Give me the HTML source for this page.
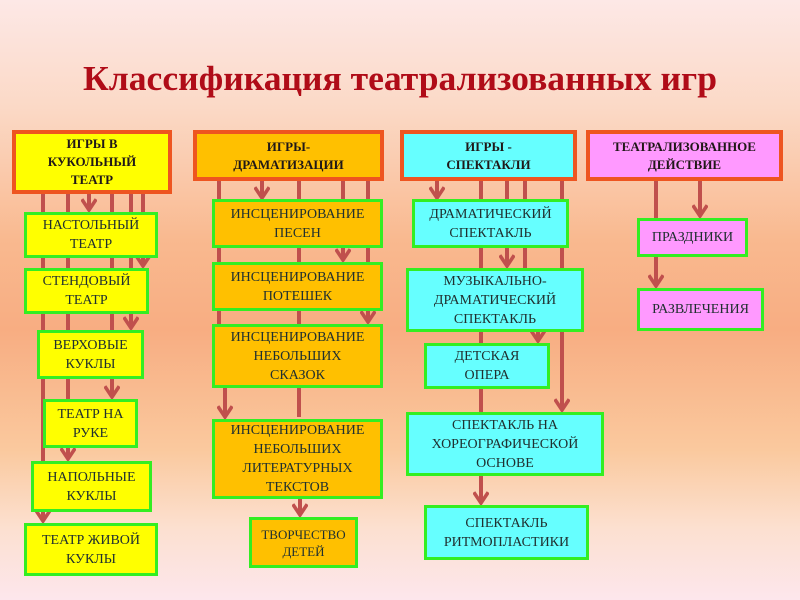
<!DOCTYPE html>
<html><head><meta charset="utf-8"><style>
html,body{margin:0;padding:0}
body{width:800px;height:600px;position:relative;overflow:hidden;font-family:"Liberation Serif",serif;
background:linear-gradient(to bottom,#fde8e6 0%,#fbd9c6 18%,#f9b98f 40%,#f8ad82 55%,#fac99e 75%,#fce0d0 88%,#fde6ec 100%);}
.b{position:absolute;box-sizing:border-box;display:flex;align-items:center;justify-content:center;text-align:center;color:#203030;font-size:14px;line-height:19px;}
.h{border:4px solid #ee5520;font-weight:bold;font-size:13px;line-height:18px;color:#201818}
.g{border:3px solid #33ee22}
.y{background:#ffff00}.o{background:#ffc000}.c{background:#66ffff}.p{background:#ff99ff}
svg{position:absolute;left:0;top:0}
</style></head><body>
<svg width="800" height="600">
<defs><marker id="a" markerWidth="4" markerHeight="4" refX="3" refY="2" orient="auto" markerUnits="strokeWidth"><path d="M0.3,0.2 L3,2 L0.3,3.8" fill="none" stroke="#c0504d" stroke-width="0.9"/></marker></defs>
<text x="400" y="90" text-anchor="middle" font-family="Liberation Serif,serif" font-weight="bold" font-size="35" fill="#b00c18" textLength="634" lengthAdjust="spacingAndGlyphs">Классификация театрализованных игр</text>
<g stroke="#c0504d" stroke-width="4" fill="none">
<line x1="43" y1="193" x2="43" y2="521" marker-end="url(#a)"/>
<line x1="68" y1="193" x2="68" y2="459" marker-end="url(#a)"/>
<line x1="89" y1="193" x2="89" y2="210" marker-end="url(#a)"/>
<line x1="112" y1="193" x2="112" y2="397" marker-end="url(#a)"/>
<line x1="131" y1="193" x2="131" y2="328" marker-end="url(#a)"/>
<line x1="143" y1="193" x2="143" y2="266" marker-end="url(#a)"/>
<line x1="219" y1="180" x2="219" y2="324"/>
<line x1="225" y1="324" x2="225" y2="417" marker-end="url(#a)"/>
<line x1="262" y1="180" x2="262" y2="198" marker-end="url(#a)"/>
<line x1="299" y1="180" x2="299" y2="417"/>
<line x1="300" y1="498" x2="300" y2="515" marker-end="url(#a)"/>
<line x1="343" y1="180" x2="343" y2="260" marker-end="url(#a)"/>
<line x1="368" y1="180" x2="368" y2="322" marker-end="url(#a)"/>
<line x1="437" y1="180" x2="437" y2="198" marker-end="url(#a)"/>
<line x1="481" y1="180" x2="481" y2="503" marker-end="url(#a)"/>
<line x1="507" y1="180" x2="507" y2="266" marker-end="url(#a)"/>
<line x1="525" y1="180" x2="525" y2="268"/>
<line x1="538" y1="331" x2="538" y2="341" marker-end="url(#a)"/>
<line x1="562" y1="180" x2="562" y2="410" marker-end="url(#a)"/>
<line x1="656" y1="180" x2="656" y2="286" marker-end="url(#a)"/>
<line x1="700" y1="180" x2="700" y2="216" marker-end="url(#a)"/>
</g></svg>

<div class="b h y" style="left:12px;top:130px;width:160px;height:64px">ИГРЫ В<br>КУКОЛЬНЫЙ<br>ТЕАТР</div>
<div class="b h o" style="left:193px;top:130px;width:191px;height:51px">ИГРЫ-<br>ДРАМАТИЗАЦИИ</div>
<div class="b h c" style="left:400px;top:130px;width:177px;height:51px">ИГРЫ -<br>СПЕКТАКЛИ</div>
<div class="b h p" style="left:586px;top:130px;width:197px;height:51px">ТЕАТРАЛИЗОВАННОЕ<br>ДЕЙСТВИЕ</div>

<div class="b g y" style="left:24px;top:212px;width:134px;height:46px">НАСТОЛЬНЫЙ<br>ТЕАТР</div>
<div class="b g y" style="left:24px;top:268px;width:125px;height:46px">СТЕНДОВЫЙ<br>ТЕАТР</div>
<div class="b g y" style="left:37px;top:330px;width:107px;height:49px">ВЕРХОВЫЕ<br>КУКЛЫ</div>
<div class="b g y" style="left:43px;top:399px;width:95px;height:49px">ТЕАТР НА<br>РУКЕ</div>
<div class="b g y" style="left:31px;top:461px;width:121px;height:51px">НАПОЛЬНЫЕ<br>КУКЛЫ</div>
<div class="b g y" style="left:24px;top:523px;width:134px;height:53px">ТЕАТР ЖИВОЙ<br>КУКЛЫ</div>

<div class="b g o" style="left:212px;top:199px;width:171px;height:49px">ИНСЦЕНИРОВАНИЕ<br>ПЕСЕН</div>
<div class="b g o" style="left:212px;top:262px;width:171px;height:49px">ИНСЦЕНИРОВАНИЕ<br>ПОТЕШЕК</div>
<div class="b g o" style="left:212px;top:324px;width:171px;height:64px">ИНСЦЕНИРОВАНИЕ<br>НЕБОЛЬШИХ<br>СКАЗОК</div>
<div class="b g o" style="left:212px;top:419px;width:171px;height:80px">ИНСЦЕНИРОВАНИЕ<br>НЕБОЛЬШИХ<br>ЛИТЕРАТУРНЫХ<br>ТЕКСТОВ</div>
<div class="b g o" style="left:249px;top:517px;width:109px;height:51px;font-size:13px;line-height:17px">ТВОРЧЕСТВО<br>ДЕТЕЙ</div>

<div class="b g c" style="left:412px;top:199px;width:157px;height:49px">ДРАМАТИЧЕСКИЙ<br>СПЕКТАКЛЬ</div>
<div class="b g c" style="left:406px;top:268px;width:178px;height:64px">МУЗЫКАЛЬНО-<br>ДРАМАТИЧЕСКИЙ<br>СПЕКТАКЛЬ</div>
<div class="b g c" style="left:424px;top:343px;width:126px;height:46px">ДЕТСКАЯ<br>ОПЕРА</div>
<div class="b g c" style="left:406px;top:412px;width:198px;height:64px">СПЕКТАКЛЬ НА<br>ХОРЕОГРАФИЧЕСКОЙ<br>ОСНОВЕ</div>
<div class="b g c" style="left:424px;top:505px;width:165px;height:55px">СПЕКТАКЛЬ<br>РИТМОПЛАСТИКИ</div>

<div class="b g p" style="left:637px;top:218px;width:111px;height:39px">ПРАЗДНИКИ</div>
<div class="b g p" style="left:637px;top:288px;width:127px;height:43px">РАЗВЛЕЧЕНИЯ</div>
</body></html>
